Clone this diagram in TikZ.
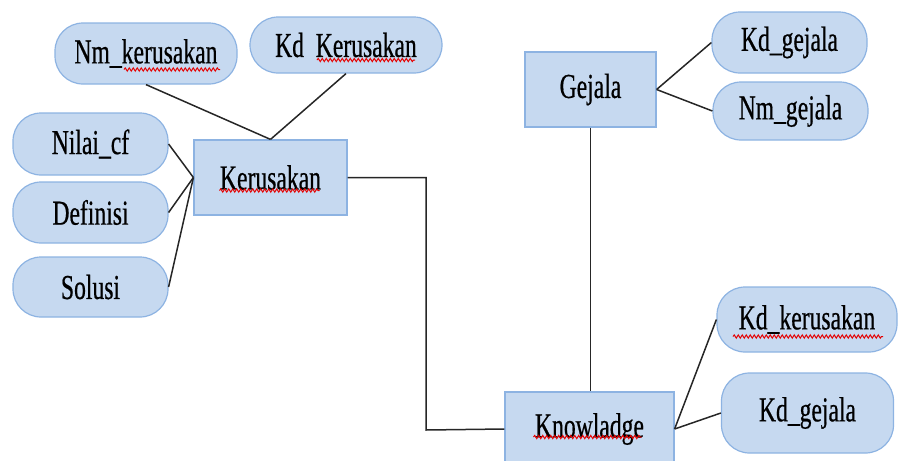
\documentclass[tikz,border=0pt]{standalone}
\usepackage{fontspec}
\setmainfont[FakeStretch=0.675,FakeBold=0.5]{Liberation Serif}
\usetikzlibrary{calc,decorations.pathmorphing}
\definecolor{attrfill}{RGB}{198,217,240}
\definecolor{attrline}{RGB}{141,179,226}
\tikzset{
  attr/.style={draw=attrline, fill=attrfill, line width=1.2pt, rectangle, rounded corners=28pt,
    minimum width=#1, inner sep=0pt, font=\fontsize{35}{38}\selectfont},
  ent/.style={draw=attrline, fill=attrfill, line width=1.2pt, rectangle, inner sep=0pt,
    font=\fontsize{35}{38}\selectfont},
  conn/.style={draw=black!85, line width=1.5pt},
  spell/.style={draw=red!90!black, line width=1pt, decorate,
    decoration={snake, amplitude=1.6pt, segment length=4pt}}
}
\begin{document}
\begin{tikzpicture}[x=1pt,y=-1pt]
\useasboundingbox (0,0) rectangle (898,461);
\clip (0,0) rectangle (898,461);
% entities
\node[ent, minimum width=153pt, minimum height=75pt] (ker) at (270.5,177.5) {Kerusakan};
\node[ent, minimum width=131pt, minimum height=75pt] (gej) at (590.5,89.5) {Gejala};
\node[ent, minimum width=169pt, minimum height=74pt] (kn) at (589.5,429) {Knowladge};
% attributes
\node[attr=182pt, minimum height=61pt] (nmk) at (146,53.5) {Nm\_kerusakan};
\node[attr=192pt, minimum height=56pt] (kdk) at (346,45) {Kd\ \ Kerusakan};
\node[attr=155pt, minimum height=62pt] (nil) at (90.5,144) {Nilai\_cf};
\node[attr=155pt, minimum height=61pt] (def) at (90.5,212.5) {Definisi};
\node[attr=155pt, minimum height=60pt] (sol) at (90.5,287) {Solusi};
\node[attr=155pt, minimum height=61pt] (kdg) at (789.5,42.5) {Kd\_gejala};
\node[attr=155pt, minimum height=58pt] (nmg) at (790.5,111) {Nm\_gejala};
\node[attr=180pt, minimum height=65pt] (kdk2) at (807,319.5) {Kd\_kerusakan};
\node[attr=172pt, minimum height=80pt] (kdg2) at (807.5,413) {Kd\_gejala};
% connectors
\draw[conn] (nmk.south) -- (ker.north);
\draw[conn] (kdk.south) -- (ker.north);
\draw[conn] (nil.east) -- (ker.west);
\draw[conn] (def.east) -- (ker.west);
\draw[conn] (sol.east) -- (ker.west);
\coordinate (j) at (426,430);
\draw[conn] (ker.east) -| (j) -- (kn.west);
\draw[conn] (gej.south) -- (gej.south |- kn.north);
\draw[conn] (gej.east) -- (kdg.west);
\draw[conn] (gej.east) -- (nmg.west);
\draw[conn] (kn.east) -- (kdk2.west);
\draw[conn] (kn.east) -- (kdg2.west);
% spelling underlines
\draw[spell] ($(nmk.center)+(-22,16)$) -- ++(96,0);
\draw[spell] ($(kdk.center)+(-29,15)$) -- ++(98,0);
\draw[spell] ($(ker.center)+(-51,13)$) -- ++(100,0);
\draw[spell] ($(kdk2.center)+(-74,17)$) -- ++(150,0);
\draw[spell] ($(kn.center)+(-56,8)$) -- ++(108,0);
\end{tikzpicture}
\end{document}
